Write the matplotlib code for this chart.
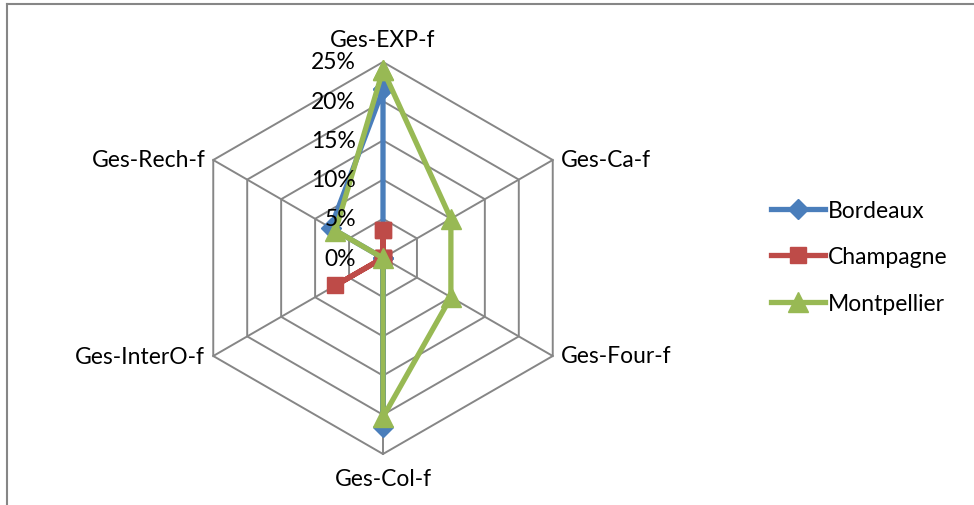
import numpy as np
import matplotlib
matplotlib.use("Agg")
import matplotlib.pyplot as plt
from matplotlib.patches import Polygon

plt.rcParams['font.family'] = ['Lato', 'DejaVu Sans']

# data (percent)
categories = ['Ges-EXP-f', 'Ges-Ca-f', 'Ges-Four-f', 'Ges-Col-f', 'Ges-InterO-f', 'Ges-Rech-f']
bordeaux = [21.5, 0, 0, 21.5, 0, 7.7]
champagne = [3.6, 0, 0, 0, 7.0, 0]
montpellier = [24.0, 10.0, 10.0, 20.3, 0, 7.0]
ticks = [0, 5, 10, 15, 20, 25]
tick_labels = ['0%', '5%', '10%', '15%', '20%', '25%']

W, H = 974, 506
cx, cy = 383, 259           # centre of the radar in pixels
s = 196 / 25.0              # pixels per percent
fs = 16.5

fig = plt.figure(figsize=(W / 100, H / 100), dpi=100)
ax = fig.add_axes([0, 0, 1, 1])
ax.set_xlim(-cx / s, (W - cx) / s)
ax.set_ylim(-(H - cy) / s, cy / s)
ax.axis('off')

n = len(categories)
ang = np.pi / 2 - np.arange(n) * 2 * np.pi / n

def xy(vals):
    v = np.asarray(vals, dtype=float)
    return v * np.cos(ang), v * np.sin(ang)

grid_col = '#868686'
# rings
for t in ticks[1:]:
    gx, gy = xy([t] * n)
    ax.add_patch(Polygon(np.c_[gx, gy], closed=True, fill=False,
                         edgecolor=grid_col, lw=1.4, zorder=1))
# spokes
for a in ang:
    ax.plot([0, 25 * np.cos(a)], [0, 25 * np.sin(a)], color=grid_col, lw=1.4, zorder=1)

# tick labels
for t, lab in zip(ticks, tick_labels):
    ax.text(-27 / s, t, lab, ha='right', va='center', fontsize=fs, color='black', zorder=5)

# category labels
off = 24 / s
for i, (c, a) in enumerate(zip(categories, ang)):
    px, py = 25 * np.cos(a), 25 * np.sin(a)
    if i == 0:
        ax.text(px, py + off - 2 / s, c, ha='center', va='center', fontsize=fs)
    elif i == 3:
        ax.text(px, py - off, c, ha='center', va='center', fontsize=fs)
    elif px > 0:
        ax.text(px + 8 / s, py, c, ha='left', va='center', fontsize=fs)
    else:
        ax.text(px - 8 / s, py, c, ha='right', va='center', fontsize=fs)

series = [
    ('Bordeaux', bordeaux, '#4A7EBB', 'D', 10),
    ('Champagne', champagne, '#BE4B48', 's', 12),
    ('Montpellier', montpellier, '#98B954', '^', 14),
]
handles = []
for name, vals, col, mk, ms in series:
    x, y = xy(vals)
    x = np.r_[x, x[0]]
    y = np.r_[y, y[0]]
    h, = ax.plot(x, y, color=col, lw=3.8, marker=mk, ms=ms, mfc=col, mec=col,
                 label=name, zorder=3, solid_joinstyle='miter')
    handles.append(h)

leg = fig.legend(handles=handles, loc='center left',
                 bbox_to_anchor=(771 / W, 1 - 258 / H), frameon=False,
                 fontsize=fs, handlelength=2.35, handletextpad=0.12,
                 labelspacing=1.1, borderpad=0, borderaxespad=0)

# chart border (cut by the image at right and bottom)
fig.add_artist(plt.Line2D([7 / W, 1.0], [1 - 5 / H, 1 - 5 / H],
                          transform=fig.transFigure, color=grid_col, lw=1.5))
fig.add_artist(plt.Line2D([7 / W, 7 / W], [0, 1 - 5 / H],
                          transform=fig.transFigure, color=grid_col, lw=1.5))

fig.savefig('out.png', dpi=100)
